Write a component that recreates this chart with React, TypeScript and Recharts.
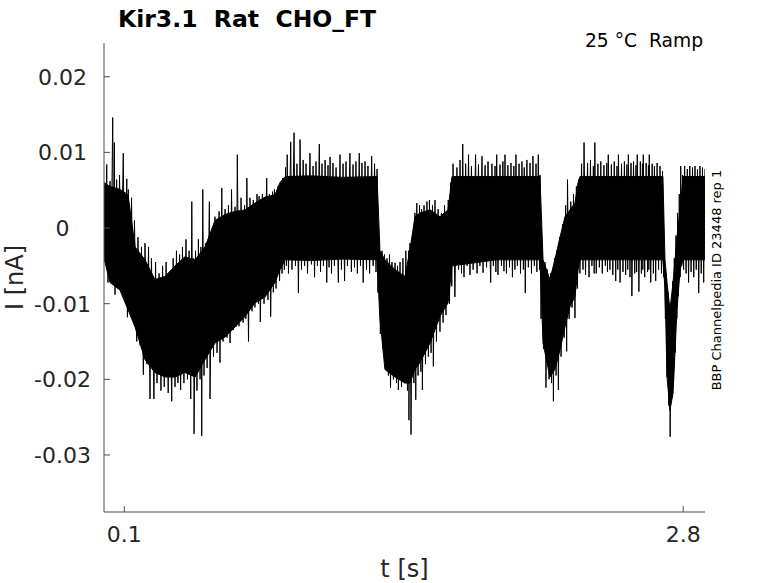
import { Area, ComposedChart, Line, XAxis, YAxis } from 'recharts';

const CHART_WIDTH = 778;
const CHART_HEIGHT = 583;
const AXIS_COLOR = '#4d4d4d';
const TEXT_COLOR = '#262626';
const FONT = '"DejaVu Sans", sans-serif';

const xTickValues = [0.1, 2.8];
const xTickLabels = ['0.1', '2.8'];
const yTickValues = [0.02, 0.01, 0, -0.01, -0.02, -0.03];
const yTickLabels = ['0.02', '0.01', '0', '-0.01', '-0.02', '-0.03'];

// dense core of the noisy current: [t (s), low (nA), high (nA)]
const currentBand: [number, number, number][] = [
  [0.002, -0.004, 0.006],
  [0.031, -0.0072, 0.0055],
  [0.079, -0.0082, 0.0051],
  [0.118, -0.0108, 0.0044],
  [0.152, -0.0131, -0.0025],
  [0.2, -0.0174, -0.0042],
  [0.248, -0.0191, -0.0068],
  [0.297, -0.0197, -0.0064],
  [0.345, -0.0197, -0.005],
  [0.393, -0.0191, -0.0038],
  [0.442, -0.0197, -0.0042],
  [0.49, -0.0174, -0.0025],
  [0.538, -0.0152, 0.001],
  [0.587, -0.0144, 0.0018],
  [0.635, -0.0131, 0.0022],
  [0.683, -0.0117, 0.0024],
  [0.731, -0.0099, 0.0033],
  [0.78, -0.0091, 0.0041],
  [0.828, -0.0072, 0.0044],
  [0.852, -0.0055, 0.006],
  [0.877, -0.0042, 0.0068],
  [1.0, -0.0043, 0.0069],
  [1.15, -0.0041, 0.0067],
  [1.321, -0.0042, 0.0068],
  [1.335, -0.012, -0.003],
  [1.359, -0.0187, -0.0042],
  [1.408, -0.0197, -0.0055],
  [1.456, -0.0205, -0.0064],
  [1.48, -0.0205, -0.0029],
  [1.504, -0.0187, 0.0015],
  [1.528, -0.0178, 0.002],
  [1.577, -0.0152, 0.0024],
  [1.625, -0.0117, 0.0015],
  [1.664, -0.0099, 0.0024],
  [1.683, -0.005, 0.0068],
  [1.9, -0.0042, 0.0068],
  [2.108, -0.0042, 0.0068],
  [2.123, -0.0152, -0.0042],
  [2.156, -0.0197, -0.0068],
  [2.18, -0.0187, -0.0042],
  [2.205, -0.0161, -0.0012],
  [2.229, -0.0131, 0.0015],
  [2.253, -0.0104, 0.0024],
  [2.277, -0.0091, 0.0033],
  [2.292, -0.0055, 0.006],
  [2.301, -0.0042, 0.0068],
  [2.5, -0.0042, 0.0068],
  [2.702, -0.0042, 0.0068],
  [2.712, -0.008, -0.0042],
  [2.722, -0.0197, -0.0072],
  [2.736, -0.0241, -0.0108],
  [2.751, -0.0218, -0.0072],
  [2.77, -0.0108, -0.0012],
  [2.785, -0.0055, 0.0024],
  [2.799, -0.0042, 0.0068],
  [2.905, -0.0042, 0.0068],
];

// sampled trace peaks: [t (s), I (nA)]
const traceOnset: [number, number][] = [
  [0.002, 0.006], [0.009, -0.004], [0.015, 0.0084], [0.021, -0.0072], [0.031, 0.0062],
  [0.036, -0.006], [0.044, 0.0146], [0.048, -0.005], [0.052, 0.0113], [0.055, -0.0088],
  [0.063, 0.0064], [0.07, -0.0075], [0.077, 0.007], [0.084, -0.008], [0.095, 0.0099],
  [0.101, -0.0085], [0.112, 0.0065], [0.115, -0.0118], [0.119, 0.0051], [0.128, -0.01],
  [0.135, 0.004], [0.142, -0.012], [0.149, 0.001], [0.16, -0.015], [0.166, -0.0012],
  [0.176, -0.0155], [0.183, -0.0025], [0.192, -0.0194], [0.2, -0.002], [0.21, -0.018],
  [0.217, -0.0025], [0.224, -0.0226],
];

const traceFirstDip: [number, number][] = [
  [0.231, -0.004], [0.243, -0.0226], [0.251, -0.0045], [0.258, -0.0205], [0.268, -0.006],
  [0.277, -0.0215], [0.285, -0.005], [0.293, -0.021], [0.302, -0.0045], [0.312, -0.0218],
  [0.319, -0.0058], [0.329, -0.0229], [0.336, -0.004], [0.345, -0.021], [0.352, -0.003],
  [0.359, -0.0205], [0.367, -0.0035], [0.372, -0.0214], [0.381, -0.0025], [0.388, -0.0205],
  [0.398, -0.0015], [0.405, -0.02], [0.413, -0.003], [0.421, -0.0226], [0.426, 0.0035],
  [0.431, -0.0185], [0.434, -0.004], [0.437, -0.0272], [0.444, -0.003], [0.451, -0.0215],
  [0.458, -0.0015], [0.466, -0.02], [0.47, -0.0025], [0.474, -0.0275], [0.479, 0.0051],
  [0.485, -0.0195],
];

const traceFirstRise: [number, number][] = [
  [0.492, -0.002], [0.5, -0.0185], [0.511, 0.0035], [0.514, -0.0226], [0.524, -0.0005],
  [0.531, -0.017], [0.538, 0.0015], [0.548, -0.0165], [0.558, 0.0022], [0.562, -0.0178],
  [0.571, 0.0053], [0.577, -0.015], [0.587, 0.0025], [0.596, -0.0145], [0.603, 0.003],
  [0.611, -0.0152], [0.618, 0.0051], [0.626, -0.0135], [0.635, 0.0028], [0.641, -0.013],
  [0.646, 0.0097], [0.654, -0.013], [0.664, 0.004], [0.674, -0.0125], [0.681, 0.003],
  [0.687, -0.012], [0.692, 0.0066], [0.7, -0.015], [0.707, 0.004], [0.717, -0.011],
  [0.723, 0.0037], [0.731, -0.0105], [0.741, 0.0045], [0.748, -0.01], [0.751, 0.0042],
  [0.757, -0.0124], [0.767, 0.0045], [0.775, -0.01], [0.788, 0.0066], [0.794, -0.0095],
  [0.801, 0.0045], [0.807, -0.0117], [0.816, 0.0048], [0.82, -0.0085], [0.825, 0.0051],
  [0.833, -0.008], [0.843, 0.0055], [0.85, -0.007], [0.857, 0.006], [0.862, -0.006],
  [0.865, 0.0066], [0.873, -0.0055],
];

const traceFirstPlateau: [number, number][] = [
  [0.879, 0.008], [0.883, -0.005], [0.887, 0.0097], [0.893, -0.006], [0.904, 0.0114],
  [0.91, -0.0055], [0.92, 0.0126], [0.927, -0.005], [0.934, 0.0085], [0.941, -0.0086],
  [0.949, 0.0117], [0.956, -0.0055], [0.964, 0.009], [0.971, -0.005], [0.978, 0.0085],
  [0.985, -0.006], [0.997, 0.0099], [1.004, -0.0048], [1.012, 0.0082], [1.019, -0.0065],
  [1.026, 0.0088], [1.033, -0.005], [1.042, 0.0111], [1.048, -0.0058], [1.055, 0.0085],
  [1.062, -0.005], [1.07, 0.009], [1.078, -0.0072], [1.084, 0.0083], [1.089, -0.0052],
  [1.094, 0.0094], [1.101, -0.006], [1.108, 0.0086], [1.115, -0.005], [1.123, 0.008],
  [1.134, -0.0072], [1.142, 0.0097], [1.149, -0.0055], [1.157, 0.0085], [1.164, -0.007],
  [1.171, 0.0088], [1.178, -0.005], [1.19, 0.0099], [1.197, -0.0058], [1.205, 0.0084],
  [1.212, -0.0052], [1.219, 0.0088], [1.226, -0.006], [1.235, 0.0099], [1.241, -0.005],
  [1.248, 0.0086], [1.254, -0.0072], [1.263, 0.0088], [1.27, -0.0055], [1.277, 0.0082],
  [1.285, -0.006], [1.295, 0.0095], [1.302, -0.005], [1.309, 0.0085], [1.316, -0.0058],
  [1.321, 0.0078],
];

const traceSecondDip: [number, number][] = [
  [1.325, -0.0085], [1.33, -0.002], [1.337, -0.014], [1.345, -0.003], [1.35, -0.016],
  [1.357, -0.0035], [1.362, -0.0178], [1.369, -0.004], [1.376, -0.0195], [1.381, -0.0035],
  [1.386, -0.0211], [1.393, -0.0045], [1.4, -0.02], [1.408, -0.0046], [1.415, -0.0205],
  [1.42, -0.005], [1.424, -0.0214], [1.432, -0.0045], [1.439, -0.021], [1.446, -0.004],
  [1.453, -0.0205], [1.46, -0.003], [1.468, -0.0215], [1.473, -0.003], [1.475, -0.0254],
  [1.48, -0.002], [1.485, -0.0273], [1.492, -0.001], [1.499, -0.0205], [1.504, 0.002],
  [1.508, -0.0227], [1.513, 0.0033], [1.519, -0.0195], [1.526, 0.003], [1.533, -0.019],
  [1.536, 0.0025], [1.54, -0.0214], [1.548, 0.003], [1.555, -0.018], [1.562, 0.0035],
  [1.569, -0.017], [1.574, 0.0037], [1.582, -0.0165], [1.589, 0.003], [1.593, -0.0183],
  [1.601, 0.0037], [1.608, -0.015], [1.616, 0.0025], [1.625, -0.0137], [1.632, 0.002],
  [1.64, -0.0125], [1.647, 0.003], [1.654, -0.0115], [1.665, 0.0037], [1.671, -0.01],
  [1.676, 0.006], [1.682, -0.0077],
];

const traceSecondPlateau: [number, number][] = [
  [1.688, 0.0085], [1.697, -0.0091], [1.707, 0.008], [1.715, -0.0055], [1.722, 0.009],
  [1.729, -0.006], [1.735, 0.0111], [1.741, -0.0065], [1.749, 0.0085], [1.756, -0.005],
  [1.763, 0.0097], [1.77, -0.0062], [1.777, 0.0082], [1.785, -0.0055], [1.797, 0.0097],
  [1.804, -0.006], [1.811, 0.0084], [1.818, -0.005], [1.828, 0.0095], [1.833, -0.0059],
  [1.843, 0.0083], [1.85, -0.0052], [1.857, 0.0088], [1.87, -0.0072], [1.876, 0.0085],
  [1.883, -0.005], [1.891, 0.0082], [1.895, -0.0058], [1.899, 0.0097], [1.905, -0.0062],
  [1.915, 0.0084], [1.922, -0.005], [1.929, 0.0088], [1.934, -0.0057], [1.939, 0.0097],
  [1.946, -0.006], [1.953, 0.0083], [1.961, -0.0052], [1.968, 0.0086], [1.975, -0.0065],
  [1.982, 0.0082], [1.987, -0.0055], [1.992, 0.0097], [1.999, -0.005], [2.007, 0.0085],
  [2.014, -0.006], [2.021, 0.0088], [2.028, -0.0055], [2.032, 0.008], [2.037, -0.0086],
  [2.045, 0.009], [2.052, -0.0052], [2.06, 0.0086], [2.067, -0.006], [2.074, 0.0095],
  [2.081, -0.005], [2.089, 0.0085], [2.093, -0.0058], [2.1, 0.0097], [2.106, -0.0055],
  [2.108, 0.007],
];

const traceThirdDip: [number, number][] = [
  [2.113, -0.012], [2.118, -0.003], [2.125, -0.016], [2.132, -0.0045], [2.137, -0.0211],
  [2.144, -0.0055], [2.152, -0.02], [2.159, -0.006], [2.164, -0.0205], [2.169, -0.0055],
  [2.173, -0.0229], [2.178, -0.004], [2.186, -0.0195], [2.191, -0.003], [2.197, -0.0214],
  [2.203, -0.0012], [2.21, -0.017], [2.217, 0.0005], [2.225, -0.0145], [2.232, 0.003],
  [2.237, -0.0163], [2.241, 0.0064], [2.249, -0.012], [2.257, 0.0035], [2.263, -0.0105],
  [2.27, 0.0045], [2.277, -0.0119], [2.284, 0.0055], [2.289, -0.008], [2.296, 0.0064],
  [2.301, -0.006],
];

const traceThirdPlateau: [number, number][] = [
  [2.309, 0.0085], [2.316, -0.0055], [2.321, 0.0113], [2.328, -0.0062], [2.338, 0.0086],
  [2.345, -0.0065], [2.352, 0.009], [2.359, -0.005], [2.366, 0.0082], [2.37, -0.006],
  [2.373, 0.0113], [2.38, -0.006], [2.388, 0.0085], [2.395, -0.0052], [2.402, 0.0088],
  [2.409, -0.006], [2.417, 0.0083], [2.424, -0.005], [2.431, 0.0086], [2.434, -0.0058],
  [2.438, 0.0097], [2.446, -0.0055], [2.453, 0.0084], [2.46, -0.0062], [2.467, 0.0088],
  [2.474, -0.007], [2.48, 0.0082], [2.484, -0.0055], [2.487, 0.0097], [2.495, -0.0072],
  [2.502, 0.0085], [2.509, -0.0058], [2.516, 0.0088], [2.522, -0.0062], [2.528, 0.0084],
  [2.532, -0.0055], [2.535, 0.0097], [2.543, -0.0065], [2.548, 0.0086], [2.552, -0.009],
  [2.56, 0.0088], [2.566, -0.006], [2.572, 0.0083], [2.575, -0.0058], [2.578, 0.0097],
  [2.586, -0.0084], [2.593, 0.0088], [2.598, -0.006], [2.603, 0.0085], [2.605, -0.0055],
  [2.607, 0.0097], [2.614, -0.0065], [2.621, 0.0086], [2.628, -0.0058], [2.632, 0.0083],
  [2.634, -0.0055], [2.636, 0.0097], [2.643, -0.0072], [2.65, 0.0085], [2.656, -0.006],
  [2.661, 0.0082], [2.667, -0.007], [2.674, 0.0086], [2.681, -0.0055], [2.688, 0.0082],
  [2.695, -0.006], [2.7, 0.0075],
];

const traceFourthDip: [number, number][] = [
  [2.705, -0.0065], [2.709, -0.004], [2.714, -0.012], [2.718, -0.006], [2.722, -0.0197],
  [2.726, -0.0085], [2.731, -0.0235], [2.734, -0.011], [2.737, -0.0276], [2.741, -0.01],
  [2.745, -0.0225], [2.749, -0.007], [2.753, -0.021], [2.757, -0.004], [2.761, -0.0165],
  [2.765, -0.001], [2.769, -0.012], [2.773, 0.002], [2.777, -0.009], [2.781, 0.0045],
  [2.785, -0.0065], [2.788, 0.0082], [2.793, -0.005], [2.797, 0.007],
];

const traceTail: [number, number][] = [
  [2.802, -0.0055], [2.807, 0.0082], [2.814, -0.006], [2.82, 0.0078], [2.826, -0.0072],
  [2.832, 0.0082], [2.838, -0.0058], [2.845, 0.008], [2.851, -0.0065], [2.857, 0.0082],
  [2.863, -0.0055], [2.869, 0.0078], [2.875, -0.0086], [2.881, 0.0082], [2.887, -0.006],
  [2.893, 0.008], [2.899, -0.0072], [2.905, 0.0078],
];

const traceSegments = [
  traceOnset,
  traceFirstDip,
  traceFirstRise,
  traceFirstPlateau,
  traceSecondDip,
  traceSecondPlateau,
  traceThirdDip,
  traceThirdPlateau,
  traceFourthDip,
  traceTail,
];

type Row = { t: number; band?: [number, number]; current?: number };

const chartData: Row[] = [
  ...currentBand.map(([t, lo, hi]) => ({ t, band: [lo, hi] as [number, number] })),
  ...traceSegments.flat().map(([t, v]) => ({ t, current: v })),
].sort((a, b) => a.t - b.t);

function XTick({ x, y, payload }: any) {
  const label = xTickLabels[xTickValues.indexOf(payload.value)];
  return (
    <g>
      <line x1={x} x2={x} y1={y} y2={y - 6} stroke={AXIS_COLOR} />
      <text x={x} y={y + 30} textAnchor="middle" fontSize={22} fontFamily={FONT} fill={TEXT_COLOR}>
        {label}
      </text>
    </g>
  );
}

function YTick({ x, y, payload }: any) {
  const label = yTickLabels[yTickValues.indexOf(payload.value)];
  return (
    <g>
      <line x1={x} x2={x + 6} y1={y} y2={y} stroke={AXIS_COLOR} />
      <text x={x - 41.5} y={y + 8} textAnchor="middle" fontSize={22} fontFamily={FONT} fill={TEXT_COLOR}>
        {label}
      </text>
    </g>
  );
}

export default function App() {
  return (
    <div style={{ position: 'relative', width: CHART_WIDTH, height: CHART_HEIGHT, background: '#fff' }}>
      <style>{'body { margin: 0; }'}</style>
      <ComposedChart
        width={CHART_WIDTH}
        height={CHART_HEIGHT}
        data={chartData}
        margin={{ top: 43, right: 73, bottom: 0, left: 0 }}
      >
        <XAxis
          dataKey="t"
          type="number"
          domain={[0.0019, 2.9053]}
          ticks={xTickValues}
          tick={<XTick />}
          tickSize={0}
          tickMargin={0}
          height={71}
          stroke={AXIS_COLOR}
          allowDataOverflow
        />
        <YAxis
          type="number"
          domain={[-0.03754, 0.02446]}
          ticks={yTickValues}
          tick={<YTick />}
          tickSize={0}
          tickMargin={0}
          width={104}
          stroke={AXIS_COLOR}
          allowDataOverflow
        />
        <Area
          dataKey="band"
          type="linear"
          stroke="#000"
          strokeWidth={1}
          fill="#000"
          fillOpacity={1}
          connectNulls
          dot={false}
          activeDot={false}
          isAnimationActive={false}
        />
        <Line
          dataKey="current"
          type="linear"
          stroke="#000"
          strokeWidth={1}
          connectNulls
          dot={false}
          activeDot={false}
          isAnimationActive={false}
        />
      </ComposedChart>
      <svg
        width={CHART_WIDTH}
        height={CHART_HEIGHT}
        style={{ position: 'absolute', left: 0, top: 0, pointerEvents: 'none' }}
      >
        <text x={118} y={26.5} fontSize={23.5} fontWeight="bold" fontFamily={FONT} fill="#000" style={{ whiteSpace: 'pre' }}>
          Kir3.1  Rat  CHO_FT
        </text>
        <text x={703} y={47} textAnchor="end" fontSize={18.7} fontFamily={FONT} fill="#000" style={{ whiteSpace: 'pre' }}>
          25 °C  Ramp
        </text>
        <text
          x={23}
          y={277.5}
          transform="rotate(-90 23 277.5)"
          textAnchor="middle"
          fontSize={24}
          fontFamily={FONT}
          fill={TEXT_COLOR}
        >
          I [nA]
        </text>
        <text x={404.5} y={577} textAnchor="middle" fontSize={24} fontFamily={FONT} fill={TEXT_COLOR}>
          t [s]
        </text>
        <text
          x={721}
          y={280}
          transform="rotate(-90 721 280)"
          textAnchor="middle"
          fontSize={13}
          fontFamily={FONT}
          fill="#000"
        >
          BBP Channelpedia ID 23448 rep 1
        </text>
      </svg>
    </div>
  );
}
